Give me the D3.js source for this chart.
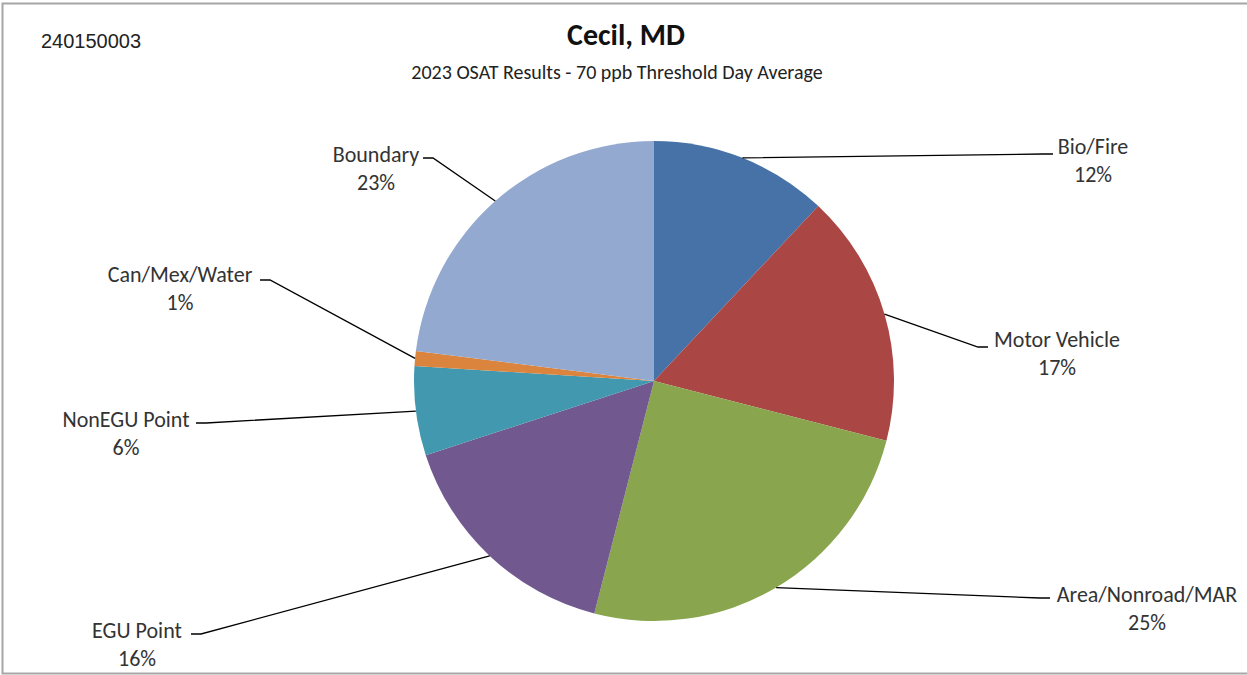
<!DOCTYPE html>
<html>
<head>
<meta charset="utf-8">
<script src="https://cdn.jsdelivr.net/npm/d3@7"></script>
<style>
  html, body { margin: 0; padding: 0; background: #fff; }
  svg { display: block; }
  text { font-family: Carlito, "Open Sans", Lato, sans-serif; }
</style>
</head>
<body>
<svg id="chart" width="1247" height="675"></svg>
<script>
// Source-sector contributions (percent)
const categories = ["Bio/Fire", "Motor Vehicle", "Area/Nonroad/MAR", "EGU Point", "NonEGU Point", "Can/Mex/Water", "Boundary"];
const values = [12, 17, 25, 16, 6, 1, 23];
const colors = ["#4672a8", "#aa4643", "#89a54e", "#71588f", "#4198af", "#db843d", "#93a9cf"];

const siteId = "240150003";
const title = "Cecil, MD";
const subtitle = "2023 OSAT Results - 70 ppb Threshold Day Average";

// Label placement: text centre x, first baseline y, and where the leader line meets the label
const labelLayout = {
  "Bio/Fire":         { cx: 1093, y: 154, ex: 1053, ey: 154, side: 1 },
  "Motor Vehicle":    { cx: 1057, y: 347, ex: 988,  ey: 347, side: 1 },
  "Area/Nonroad/MAR": { cx: 1147, y: 602, ex: 1050, ey: 598, side: 1 },
  "EGU Point":        { cx: 137,  y: 638, ex: 191,  ey: 634, side: -1 },
  "NonEGU Point":     { cx: 126,  y: 427, ex: 196,  ey: 423, side: -1 },
  "Can/Mex/Water":    { cx: 180,  y: 282, ex: 260,  ey: 280, side: -1 },
  "Boundary":         { cx: 376,  y: 162, ex: 423,  ey: 158, side: -1 }
};

const svg = d3.select("#chart");
const W = 1247;

// Chart frame
svg.append("rect")
  .attr("x", 2.5).attr("y", 3.5)
  .attr("width", W + 10).attr("height", 670)
  .attr("fill", "#fff")
  .attr("stroke", "#a6a6a6").attr("stroke-width", 2);

svg.append("text")
  .attr("x", 41).attr("y", 48)
  .style("font-family", "'Liberation Sans', Arial, sans-serif")
  .attr("font-size", 20).attr("fill", "#222")
  .text(siteId);

svg.append("text")
  .attr("x", 626).attr("y", 45)
  .attr("text-anchor", "middle")
  .attr("font-size", 30).attr("font-weight", "bold").attr("fill", "#111")
  .text(title);

svg.append("text")
  .attr("x", 617).attr("y", 79)
  .attr("text-anchor", "middle")
  .attr("font-size", 20).attr("fill", "#222")
  .text(subtitle);

const cx = 654, cy = 381, r = 240;
const data = categories.map((c, i) => ({ name: c, value: values[i], color: colors[i] }));

const pie = d3.pie().value(d => d.value).sort(null);
const arcs = pie(data);
const arc = d3.arc().innerRadius(0).outerRadius(r);

const g = svg.append("g").attr("transform", `translate(${cx},${cy})`);

g.selectAll("path.slice")
  .data(arcs)
  .join("path")
  .attr("class", "slice")
  .attr("d", arc)
  .attr("fill", d => d.data.color);

// Leader lines from each slice's outer mid-point to its label
const lines = svg.append("g");
arcs.forEach(a => {
  const L = labelLayout[a.data.name];
  const mid = (a.startAngle + a.endAngle) / 2;
  const px = cx + r * Math.sin(mid);
  const py = cy - r * Math.cos(mid);
  const elbowX = L.ex - L.side * 10;
  lines.append("path")
    .attr("d", d3.line()([[px, py], [elbowX, L.ey], [L.ex, L.ey]]))
    .attr("fill", "none")
    .attr("stroke", "#000")
    .attr("stroke-width", 1.3);

  const t = svg.append("text")
    .attr("text-anchor", "middle")
    .attr("font-size", 22)
    .attr("fill", "#333");
  t.append("tspan").attr("x", L.cx).attr("y", L.y).text(a.data.name);
  t.append("tspan").attr("x", L.cx).attr("y", L.y + 28).text(d3.format(".0f")(a.data.value) + "%");
});
</script>
</body>
</html>
